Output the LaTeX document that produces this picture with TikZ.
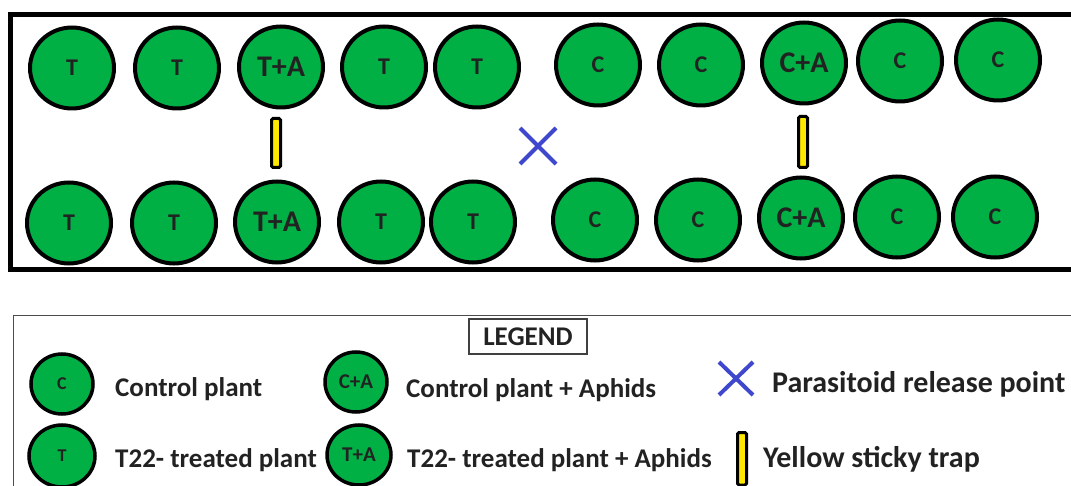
\documentclass[tikz,border=0pt]{standalone}
\usepackage{fontspec}
\setmainfont{Carlito}
\usetikzlibrary{shapes.geometric}
\definecolor{plantgreen}{RGB}{0,176,68}
\definecolor{trapyellow}{RGB}{255,232,0}
\definecolor{xblue}{RGB}{63,72,204}
\definecolor{txt}{RGB}{34,34,34}
\tikzset{
  plant/.style={ellipse, draw=black, fill=plantgreen, line width=4pt, minimum width=84pt, minimum height=81pt, inner sep=0pt, text=txt, font=\bfseries\fontsize{24}{24}\selectfont},
  plantA/.style={plant, font=\bfseries\fontsize{30}{30}\selectfont},
  lplant/.style={ellipse, draw=black, fill=plantgreen, line width=3.5pt, minimum width=62pt, minimum height=60pt, inner sep=0pt, text=txt, font=\bfseries\fontsize{18}{18}\selectfont},
  lplantA/.style={lplant, font=\bfseries\fontsize{21}{21}\selectfont},
  trap/.style={draw=black, fill=trapyellow, line width=3pt, rounded corners=1.5pt},
  xmark/.style={draw=xblue, line width=4pt},
  ltext/.style={anchor=base west, text=txt, font=\bfseries\fontsize{27}{27}\selectfont, inner sep=0pt},
  rtext/.style={ltext, font=\bfseries\fontsize{30}{30}\selectfont}
}
\begin{document}
\begin{tikzpicture}[x=1pt,y=-1pt]
\useasboundingbox (0,0) rectangle (1071,486);
% field box
\draw[line width=5pt] (1090,15) -- (10.5,15) -- (10.5,269.5) -- (1090,269.5);
% top row
\node[plant]  (t1) at (72,68)  {T};
\node[plant]  (t2) at (177,68) {T};
\node[plantA] (t3) at (281,67) {T+A};
\node[plant]  (t4) at (384,67) {T};
\node[plant]  (t5) at (477,67) {T};
\node[plant]  (t6) at (598,65) {C};
\node[plant]  (t7) at (701,65) {C};
\node[plantA] (t8) at (804,63) {C+A};
\node[plant]  (t9) at (900,61) {C};
\node[plant]  (t10) at (998,60) {C};
% bottom row
\node[plant]  (b1) at (69,223)  {T};
\node[plant]  (b2) at (174,223) {T};
\node[plantA] (b3) at (277,222) {T+A};
\node[plant]  (b4) at (381,222) {T};
\node[plant]  (b5) at (473,222) {T};
\node[plant]  (b6) at (595,220) {C};
\node[plant]  (b7) at (698,220) {C};
\node[plantA] (b8) at (801,218) {C+A};
\node[plant]  (b9) at (897,217) {C};
\node[plant]  (b10) at (995,217) {C};
% traps
\draw[trap] (271.5,118.5) rectangle (280.5,167.5);
\draw[trap] (798.5,116.5) rectangle (807.5,167.5);
% release point
\draw[xmark] (520,128) -- (556,164) (556,128) -- (520,164);
% legend box
\draw[line width=1.5pt, draw=black!70] (1090,315.5) -- (13.5,315.5) -- (13.5,495);
\node[draw=black!75, line width=1.2pt, minimum width=118pt, minimum height=35pt, inner sep=0pt, text=txt, font=\bfseries\fontsize{27}{27}\selectfont] (leg) at (528,336.5) {LEGEND};
% legend entries
\node[lplant]  (lc)  at (62,384)  {C};
\node[ltext]   (lct) at (115,396) {Control plant};
\node[lplant, minimum width=66pt, minimum height=62pt]  (lt)  at (62,456)  {T};
\node[ltext]   (ltt) at (115,467) {T22- treated plant};
\node[lplantA] (lca) at (356,382) {C+A};
\node[ltext]   (lcat) at (406,397) {Control plant + Aphids};
\node[lplantA, minimum width=64pt] (lta) at (359,455) {T+A};
\node[ltext]   (ltat) at (407,467) {T22- treated plant + Aphids};
\draw[xmark] (719,362) -- (753,395) (753,362) -- (719,395);
\node[rtext]   (lxt) at (772,392) {Parasitoid release point};
\draw[trap] (737.5,432.5) rectangle (746.5,485);
\node[rtext]   (lyt) at (763,467) {Yellow sticky trap};
\end{tikzpicture}
\end{document}
